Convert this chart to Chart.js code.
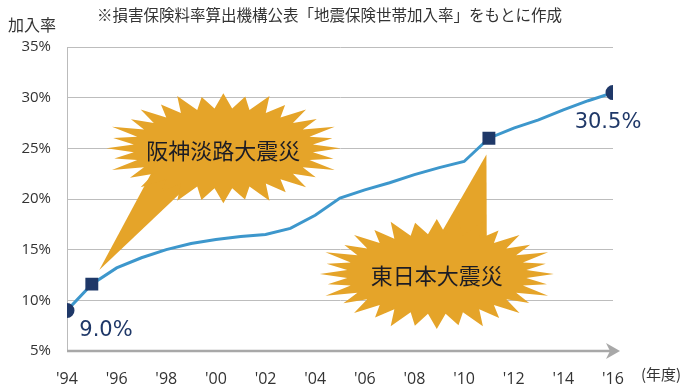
<!DOCTYPE html>
<html lang="ja">
<head>
    <meta charset="UTF-8">
    <title>地震保険世帯加入率</title>
    <script src="https://cdn.jsdelivr.net/npm/chart.js"></script>
    <style>
        body {
            margin: 0;
            background: #ffffff;
        }
        canvas {
            display: block;
        }
    </style>
</head>
<body>
    <canvas id="rateChart" width="689" height="384"></canvas>

    <script>
        // data
        const years = [1994, 1995, 1996, 1997, 1998, 1999, 2000, 2001, 2002, 2003, 2004, 2005,
                       2006, 2007, 2008, 2009, 2010, 2011, 2012, 2013, 2014, 2015, 2016];
        const rates = [9.0, 11.6, 13.2, 14.2, 15.0, 15.6, 16.0, 16.3, 16.5, 17.1, 18.4, 20.1,
                       20.9, 21.6, 22.4, 23.1, 23.7, 26.0, 27.0, 27.8, 28.8, 29.7, 30.5];
        const markerYears = [1994, 1995, 2011, 2016];
        const markerStyles = ['circle', 'rect', 'rect', 'circle'];
        const yTicks = [5, 10, 15, 20, 25, 30, 35];
        const valueLabels = [
            { year: 1994, text: '9.0%' },
            { year: 2016, text: '30.5%' }
        ];
        const quakes = [
            { name: '阪神淡路大震災', cx: 2000.3, cy: 25.0, tipX: 1995.3, tipY: 13.0 },
            { name: '東日本大震災', cx: 2008.9, cy: 12.6, tipX: 2010.9, tipY: 24.4 }
        ];

        const lineColor = '#3d97cc';
        const markColor = '#1f3868';
        const burstColor = '#e5a429';

        function drawBurst(ctx, cx, cy, tipX, tipY) {
            const spikes = 32;
            const outerX = 117, outerY = 55, innerX = 90, innerY = 40;
            const bump = [1, 0.96, 1.03, 0.95];
            ctx.save();
            ctx.fillStyle = burstColor;
            // tail
            const ang = Math.atan2(tipY - cy, tipX - cx);
            const baseX = cx + Math.cos(ang) * innerX * 0.7;
            const baseY = cy + Math.sin(ang) * innerY * 0.7;
            const px = -Math.sin(ang), py = Math.cos(ang);
            ctx.beginPath();
            ctx.moveTo(baseX + px * 28, baseY + py * 12);
            ctx.lineTo(tipX, tipY);
            ctx.lineTo(baseX - px * 28, baseY - py * 12);
            ctx.closePath();
            ctx.fill();
            // star
            ctx.beginPath();
            for (let i = 0; i < spikes * 2; i++) {
                const a = (Math.PI * i) / spikes - Math.PI / 2;
                let rx, ry;
                if (i % 2 === 0) {
                    const k = bump[(i / 2) % bump.length];
                    rx = outerX * k; ry = outerY * k;
                } else {
                    rx = innerX; ry = innerY;
                }
                const x = cx + Math.cos(a) * rx;
                const y = cy + Math.sin(a) * ry;
                if (i === 0) ctx.moveTo(x, y); else ctx.lineTo(x, y);
            }
            ctx.closePath();
            ctx.fill();
            ctx.restore();
        }

        const decorPlugin = {
            id: 'decor',
            beforeDatasetsDraw(chart) {
                const { ctx, chartArea, scales } = chart;
                const x = scales.x, y = scales.y;

                // bottom axis arrow
                ctx.save();
                ctx.strokeStyle = '#a8a8a8';
                ctx.fillStyle = '#a8a8a8';
                ctx.lineWidth = 2.5;
                ctx.beginPath();
                ctx.moveTo(chartArea.left, chartArea.bottom);
                ctx.lineTo(chartArea.right + 2, chartArea.bottom);
                ctx.stroke();
                const ax = chartArea.right + 7, ay = chartArea.bottom;
                ctx.beginPath();
                ctx.moveTo(ax, ay);
                ctx.lineTo(ax - 14, ay - 8);
                ctx.lineTo(ax - 10, ay);
                ctx.lineTo(ax - 14, ay + 8);
                ctx.closePath();
                ctx.fill();
                ctx.restore();

                quakes.forEach(q => {
                    const cx = x.getPixelForValue(q.cx), cy = y.getPixelForValue(q.cy);
                    drawBurst(ctx, cx, cy, x.getPixelForValue(q.tipX), y.getPixelForValue(q.tipY));
                    ctx.save();
                    ctx.fillStyle = '#1c1c24';
                    ctx.font = '22px "Noto Sans CJK JP"';
                    ctx.textAlign = 'center';
                    ctx.textBaseline = 'middle';
                    ctx.fillText(q.name, cx, cy + 2);
                    ctx.restore();
                });
            },
            afterDraw(chart) {
                const { ctx, scales } = chart;
                ctx.save();
                ctx.fillStyle = '#333333';
                ctx.textBaseline = 'middle';
                ctx.font = '15.5px "Noto Sans CJK JP"';
                ctx.textAlign = 'left';
                ctx.fillText('※損害保険料率算出機構公表「地震保険世帯加入率」をもとに作成', 97, 15);
                ctx.font = '16px "Noto Sans CJK JP"';
                ctx.fillText('加入率', 8, 25);
                ctx.font = '15px "Noto Sans CJK JP"';
                ctx.fillText('(年度)', 641, 374);

                ctx.fillStyle = markColor;
                ctx.font = '21px "DejaVu Sans"';
                ctx.textAlign = 'center';
                valueLabels.forEach((v, i) => {
                    const idx = years.indexOf(v.year);
                    const px = scales.x.getPixelForValue(v.year);
                    const py = scales.y.getPixelForValue(rates[idx]);
                    if (i === 0) ctx.fillText(v.text, px + 39, py + 20);
                    else ctx.fillText(v.text, px - 5, py + 30);
                });
                ctx.restore();
            }
        };

        const ctx = document.getElementById('rateChart').getContext('2d');
        new Chart(ctx, {
            type: 'line',
            data: {
                datasets: [{
                    data: years.map((yr, i) => ({ x: yr, y: rates[i] })),
                    borderColor: lineColor,
                    borderWidth: 3,
                    tension: 0,
                    pointBackgroundColor: markColor,
                    pointBorderColor: markColor,
                    pointRadius: c => markerYears.includes(years[c.dataIndex]) ? (markerStyles[markerYears.indexOf(years[c.dataIndex])] === 'rect' ? 7 : 6) : 0,
                    pointStyle: c => {
                        const m = markerYears.indexOf(years[c.dataIndex]);
                        return m >= 0 ? markerStyles[m] : 'circle';
                    }
                }]
            },
            options: {
                responsive: false,
                animation: false,
                devicePixelRatio: 1,
                layout: { padding: { top: 47, right: 76, left: 0, bottom: 0 } },
                plugins: { legend: { display: false }, tooltip: { enabled: false } },
                scales: {
                    x: {
                        type: 'linear',
                        min: 1994,
                        max: 2016,
                        afterFit: s => { s.height = 33; },
                        ticks: {
                            stepSize: 2,
                            callback: v => "'" + String(v).slice(2),
                            font: { family: '"Open Sans"', size: 16 },
                            color: '#333333',
                            padding: 11
                        },
                        grid: { display: false },
                        border: { display: false }
                    },
                    y: {
                        min: yTicks[0],
                        max: yTicks[yTicks.length - 1],
                        afterFit: s => { s.width = 67; },
                        afterBuildTicks: s => { s.ticks = yTicks.map(v => ({ value: v })); },
                        ticks: {
                            callback: v => v + '%',
                            font: { family: '"Open Sans"', size: 15 },
                            color: '#333333',
                            padding: 16
                        },
                        grid: {
                            color: c => (c.tick && c.tick.value === yTicks[0]) ? 'rgba(0,0,0,0)' : '#bdbdbd',
                            lineWidth: 1,
                            drawTicks: false
                        },
                        border: { display: true, color: '#bbbbbb', width: 1 }
                    }
                }
            },
            plugins: [decorPlugin]
        });
    </script>
</body>
</html>
